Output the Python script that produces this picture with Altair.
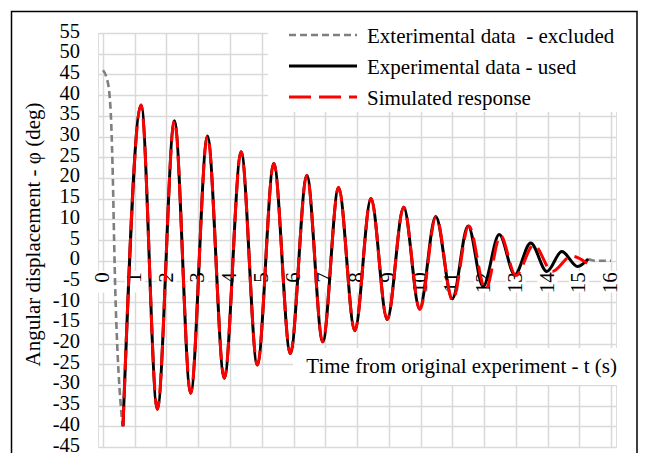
import altair as alt
import pandas as pd

# ---- data ----
excl_start_t = [0.00, 0.10, 0.20, 0.26, 0.31, 0.35, 0.39, 0.44, 0.49, 0.55, 0.60, 0.63]
excl_start_phi = [46.0, 44.5, 40.5, 33.0, 20.0, 5.0, -8.0, -19.0, -27.0, -34.0, -38.5, -40.0]
excl_end_t = [15.28, 15.50, 16.00]
excl_end_phi = [0.4, 0.0, 0.0]

used_t = [0.63, 1.20, 1.71, 2.25, 2.76, 3.29, 3.82, 4.35, 4.86, 5.38, 5.90, 6.42, 6.92,
          7.42, 7.93, 8.44, 8.95, 9.47, 9.97, 10.48, 11.00, 11.50, 11.97, 12.48, 12.97,
          13.47, 13.98, 14.45, 14.95, 15.28]
used_phi = [-40.0, 37.6, -35.9, 33.8, -32.0, 30.1, -28.4, 26.3, -25.2, 23.5, -22.4, 20.6,
            -19.6, 17.7, -16.9, 15.0, -14.2, 12.9, -11.6, 10.7, -9.2, 8.4, -6.2, 6.3,
            -3.4, 4.3, -2.6, 2.2, -1.4, 0.4]

sim_t = [0.63, 1.20, 1.71, 2.25, 2.76, 3.29, 3.82, 4.35, 4.86, 5.38, 5.90, 6.42, 6.92,
         7.42, 7.93, 8.44, 8.95, 9.47, 9.98, 10.49, 11.01, 11.52, 12.05, 12.52, 13.00,
         13.57, 14.15, 14.75, 15.25]
sim_phi = [-40.0, 37.6, -35.9, 33.8, -32.0, 30.1, -28.4, 26.3, -25.2, 23.5, -22.4, 20.6,
           -19.6, 17.7, -16.9, 15.0, -14.2, 12.9, -11.8, 10.6, -9.6, 8.4, -7.0, 6.1,
           -3.6, 3.8, -2.6, 1.1, -0.6]

x_ticks = list(range(0, 17))
y_ticks = list(range(-45, 60, 5))

legend_labels = ["Exterimental data\u00a0 - excluded", "Experimental data - used", "Simulated response"]
x_title = "Time from original experiment - t (s)"
y_title = "Angular displacement - \u03c6 (deg)"

FONT = "Liberation Serif"
GRID = "#d9d9d9"
FS = 21

X = alt.X("t:Q", scale=alt.Scale(domain=[0, 16], nice=False, zero=False),
          axis=alt.Axis(values=x_ticks, grid=True, labels=False, ticks=False, tickSize=0,
                        domain=False, title="", gridColor=GRID, gridWidth=1.5))
Y = alt.Y("phi:Q", scale=alt.Scale(domain=[-45, 55], nice=False, zero=False),
          axis=alt.Axis(values=y_ticks, grid=True, ticks=False, tickSize=0, domain=False,
                        labels=False,
                        title=y_title, titleFontSize=FS, titleFont=FONT,
                        titleFontWeight="normal", titleColor="#000",
                        titleX=-58.5, titleY=201, titleAngle=270, titleAlign="center",
                        titleBaseline="alphabetic",
                        gridColor=GRID, gridWidth=1.5))

one = pd.DataFrame({"k": [0]})

grey_start = alt.Chart(pd.DataFrame({"t": excl_start_t, "phi": excl_start_phi})).mark_line(
    color="#7f7f7f", strokeWidth=2.6, strokeDash=[7, 4], interpolate="monotone").encode(x=X, y=Y)
grey_end = alt.Chart(pd.DataFrame({"t": excl_end_t, "phi": excl_end_phi})).mark_line(
    color="#7f7f7f", strokeWidth=2.6, strokeDash=[7, 4], interpolate="monotone").encode(x=X, y=Y)
used = alt.Chart(pd.DataFrame({"t": used_t, "phi": used_phi})).mark_line(
    color="#000000", strokeWidth=3, interpolate="monotone").encode(x=X, y=Y)
sim = alt.Chart(pd.DataFrame({"t": sim_t, "phi": sim_phi})).mark_line(
    color="#ff0000", strokeWidth=3, strokeDash=[20, 8], interpolate="monotone").encode(x=X, y=Y)

# y tick labels (hyphen minus, as in the reference)
ylab_txt = alt.Chart(pd.DataFrame({"phi": y_ticks})).transform_calculate(
    lab="'' + datum.phi").mark_text(
    align="right", baseline="middle", dy=-1.5, font=FONT, fontSize=20.5, color="#000").encode(
    x=alt.value(-18), y=Y, text="lab:N")

ticks_df = pd.DataFrame({"t": x_ticks})
label_bg = alt.Chart(ticks_df).transform_calculate(phi="-2.5", phi2="-7.7").mark_bar(
    color="white", size=20).encode(x=X, y=Y, y2="phi2:Q")
label_txt = alt.Chart(ticks_df).transform_calculate(phi="-2.8", lab="'' + datum.t").mark_text(
    angle=270, align="right", baseline="middle", font=FONT, fontSize=FS, color="#000").encode(
    x=X, y=Y, text="lab:N")

# x-axis title box (white background, inside the plot)
xt_box = alt.Chart(one).mark_rect(color="white").encode(
    x=alt.value(195), x2=alt.value(520), y=alt.value(315), y2=alt.value(352))
xt_txt = alt.Chart(one).mark_text(text=x_title, align="right", baseline="alphabetic",
                                  font=FONT, fontSize=FS, color="#000").encode(
    x=alt.value(519), y=alt.value(340))

# legend
leg_box = alt.Chart(one).mark_rect(color="white").encode(
    x=alt.value(170), x2=alt.value(521), y=alt.value(-2), y2=alt.value(79))
leg_styles = [("#7f7f7f", [7, 4], 2.6), ("#000000", [1, 0], 3), ("#ff0000", [22, 8], 3)]
leg_rows = [2, 33, 64]
leg_layers = []
for (col, dash, w), row, lab in zip(leg_styles, leg_rows, legend_labels):
    leg_layers.append(alt.Chart(one).mark_rule(color=col, strokeDash=dash, strokeWidth=w).encode(
        x=alt.value(191), x2=alt.value(259), y=alt.value(row)))
    leg_layers.append(alt.Chart(one).mark_text(text=lab, align="left", baseline="alphabetic",
                                               font=FONT, fontSize=FS, color="#000").encode(
        x=alt.value(269), y=alt.value(row + 8.3)))

frame = alt.Chart(one).mark_rect(fillOpacity=0, stroke="#000", strokeWidth=1.5).encode(
    x=alt.value(-86.5), x2=alt.value(539), y=alt.value(-21.5), y2=alt.value(460))

chart = alt.layer(
    grey_start, xt_box, label_bg, label_txt, ylab_txt, grey_end, used, sim, xt_txt, leg_box,
    *leg_layers, frame
).properties(
    width=518, height=414,
    autosize=alt.AutoSizeParams(type="none"),
    padding={"left": 90, "top": 25, "right": 22, "bottom": 6},
).configure_view(stroke="transparent").configure(background="white")

chart.save("out.html", embed_options={"renderer": "svg", "actions": False})
